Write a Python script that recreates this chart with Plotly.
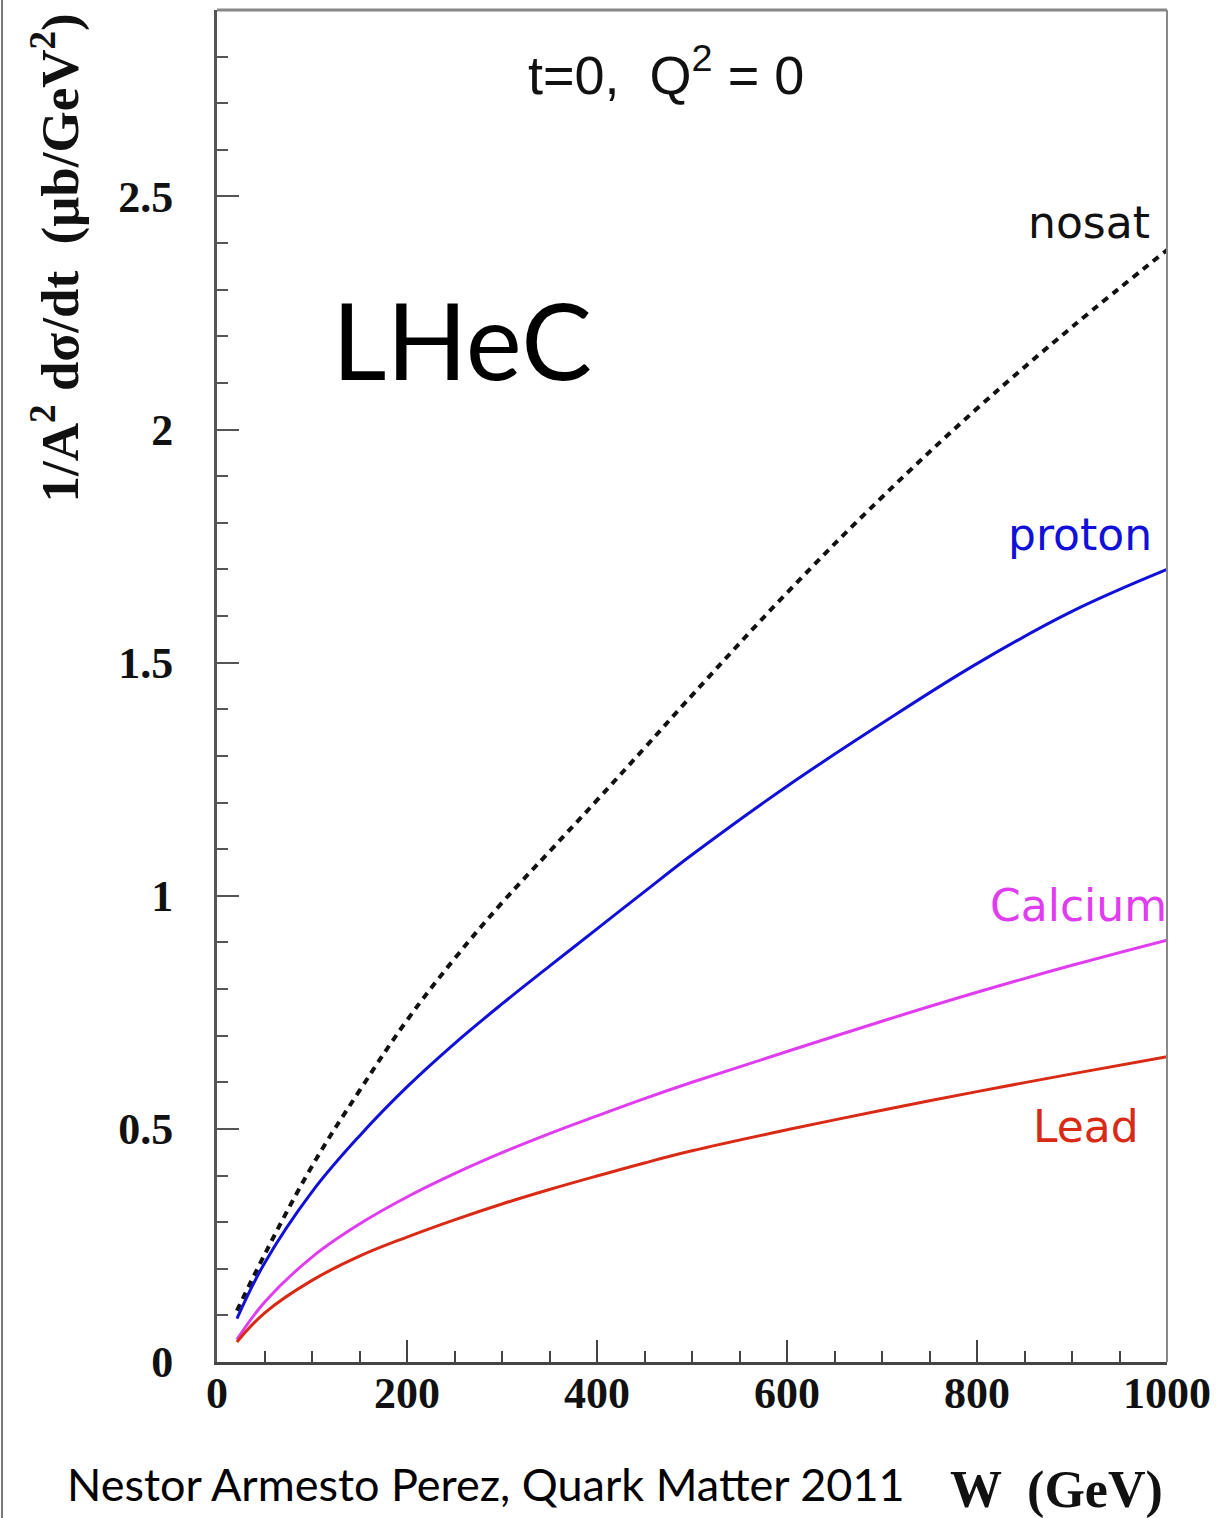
import plotly.graph_objects as go

# ---- data ----
W = [21, 50, 100, 150, 200, 250, 300, 350, 400, 450, 500, 600, 700, 800, 900, 1000]
nosat   = [0.11, 0.23, 0.42, 0.582, 0.733, 0.865, 0.985, 1.095, 1.205, 1.317, 1.43, 1.65, 1.855, 2.045, 2.22, 2.385]
proton  = [0.093, 0.212, 0.365, 0.485, 0.59, 0.683, 0.768, 0.849, 0.929, 1.009, 1.088, 1.235, 1.37, 1.498, 1.61, 1.70]
calcium = [0.048, 0.128, 0.225, 0.296, 0.354, 0.404, 0.449, 0.49, 0.528, 0.565, 0.60, 0.666, 0.731, 0.793, 0.851, 0.905]
lead    = [0.043, 0.105, 0.175, 0.227, 0.268, 0.305, 0.339, 0.37, 0.399, 0.427, 0.453, 0.498, 0.54, 0.58, 0.618, 0.655]

y_tickvals = [0, 0.5, 1, 1.5, 2, 2.5]
y_ticktext = ["0", "0.5", "1", "1.5", "2", "2.5"]
x_tickvals = [0, 200, 400, 600, 800, 1000]
x_ticktext = ["0", "200", "400", "600", "800", "1000"]

BLUE = "#1010d8"
MAGENTA = "#e03cf0"
RED = "#d82a14"

SM = 1.1
fig = go.Figure()
fig.add_trace(go.Scatter(x=W, y=nosat, mode="lines", line=dict(color="#111111", width=4, dash="7px,6px", shape="spline", smoothing=SM)))
fig.add_trace(go.Scatter(x=W, y=proton, mode="lines", line=dict(color=BLUE, width=3, shape="spline", smoothing=SM)))
fig.add_trace(go.Scatter(x=W, y=calcium, mode="lines", line=dict(color=MAGENTA, width=3, shape="spline", smoothing=SM)))
fig.add_trace(go.Scatter(x=W, y=lead, mode="lines", line=dict(color=RED, width=3, shape="spline", smoothing=SM)))

serif_b = dict(family="Liberation Serif", size=44, color="#111111", weight="bold")

fig.update_layout(
    width=1216, height=1518,
    margin=dict(l=217, r=49, t=10, b=156),
    paper_bgcolor="white", plot_bgcolor="white",
    showlegend=False,
    xaxis=dict(range=[0, 1000], tickvals=x_tickvals, ticktext=x_ticktext, automargin=False,
               showgrid=False, zeroline=False, showline=True, linewidth=3, linecolor="#444444",
               ticks="inside", ticklen=22, tickwidth=2, tickcolor="#444444",
               minor=dict(ticks="inside", dtick=50, ticklen=11, tickwidth=2, tickcolor="#444444"),
               tickfont=serif_b, ticklabelstandoff=-10),
    yaxis=dict(range=[0, 2.9], tickvals=y_tickvals, ticktext=y_ticktext, automargin=False,
               showgrid=False, zeroline=False, showline=True, linewidth=3, linecolor="#555555",
               ticks="inside", ticklen=22, tickwidth=2, tickcolor="#555555",
               minor=dict(ticks="inside", dtick=0.1, ticklen=11, tickwidth=2, tickcolor="#555555"),
               tickfont=serif_b, ticklabelstandoff=32),
)

# frame top and right
fig.add_shape(type="line", xref="paper", yref="paper", x0=0, x1=1, y0=1, y1=1, line=dict(color="#888888", width=3))
fig.add_shape(type="line", xref="paper", yref="paper", x0=1, x1=1, y0=0, y1=1, line=dict(color="#888888", width=2))
# page border on the far left
fig.add_shape(type="line", xref="paper", yref="paper", x0=-0.2263, x1=-0.2263, y0=-0.16, y1=1.01, line=dict(color="#777777", width=2))

lab = "DejaVu Sans"
ann = [
    dict(x=0.4727, y=0.955, text="t=0,  Q<sup>2</sup> = 0", font=dict(family="Liberation Sans", size=54, color="#111111"), xanchor="center", yanchor="middle"),
    dict(x=0.2579, y=0.757, text="LHeC", font=dict(family="Lato", size=106, color="#000000"), xanchor="center", yanchor="middle"),
    dict(x=0.984, y=0.8425, text="nosat", font=dict(family=lab, size=44, color="#111111"), xanchor="right", yanchor="middle"),
    dict(x=0.986, y=0.6117, text="proton", font=dict(family=lab, size=44, color=BLUE), xanchor="right", yanchor="middle"),
    dict(x=1.002, y=0.3380, text="Calcium", font=dict(family=lab, size=44, color=MAGENTA), xanchor="right", yanchor="middle"),
    dict(x=0.973, y=0.1745, text="Lead", font=dict(family=lab, size=44, color=RED), xanchor="right", yanchor="middle"),
    dict(x=-0.169, y=0.8166, text="1/A<sup>2</sup> dσ/dt  (μb/GeV<sup>2</sup>)", textangle=-90,
         font=dict(family="Liberation Serif", size=53, color="#111111", weight="bold"), xanchor="center", yanchor="middle"),
    dict(x=0.884, y=-0.0947, text="W  (GeV)", font=dict(family="Liberation Serif", size=52, color="#111111", weight="bold"), xanchor="center", yanchor="middle"),
    dict(x=-0.1605, y=-0.0902, text="Nestor Armesto Perez, Quark Matter 2011", font=dict(family="Lato", size=45, color="#000000"), xanchor="left", yanchor="middle"),
]
for a in ann:
    a.update(xref="paper", yref="paper", showarrow=False)
    fig.add_annotation(**a)

fig.write_html("out.html")
